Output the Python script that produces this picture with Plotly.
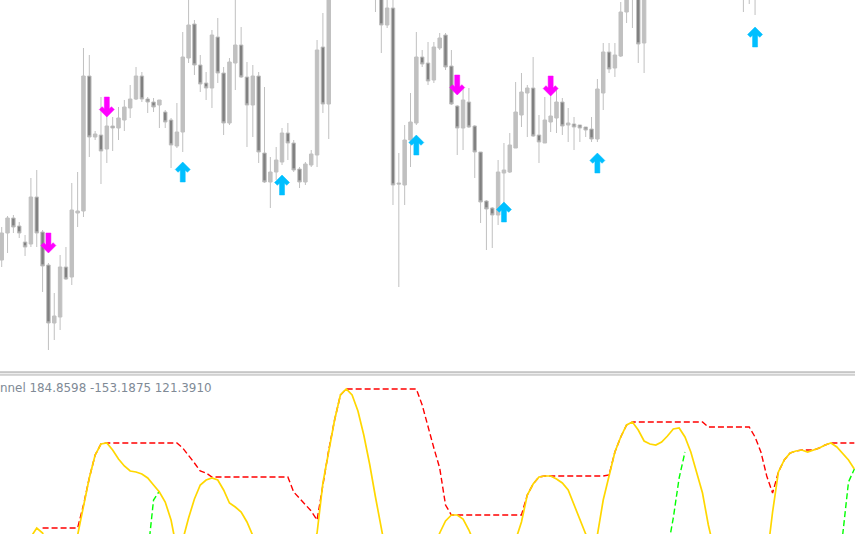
import plotly.graph_objects as go

# ---------------- data ----------------
bars = list(range(147))

open_ = [1.2740, 1.2767, 1.2782, 1.2774, 1.2758, 1.2756, 1.2803, 1.2768, 1.2735, 1.2677,
         1.2683, 1.2733, 1.2723, 1.2787, 1.2789, 1.2924, 1.2863, 1.2865, 1.2851, 1.2874,
         1.2872, 1.2880, 1.2892, 1.2901, 1.2924, 1.2901, 1.2898, 1.2895, 1.2888, 1.2880,
         1.2854, 1.2868, 1.2942, 1.2976, 1.2935, 1.2917, 1.2912, 1.2963, 1.2927, 1.2877,
         1.2937, 1.2955, 1.2923, 1.2895, 1.2924, 1.2847, 1.2818, 1.2828, 1.2838, 1.2867,
         1.2857, 1.2831, 1.2818, 1.2835, 1.2845, 1.2953, 1.2896, 1.3015, 1.3055, 1.3115,
         1.3100, 1.3145, 1.3095, 1.3060, 1.3050, 1.3015, 1.2975, 1.2992, 1.2817, 1.2815,
         1.2860, 1.2877, 1.2943, 1.2937, 1.2920, 1.2952, 1.2965, 1.2934, 1.2894, 1.2872,
         1.2898, 1.2874, 1.2848, 1.2799, 1.2792, 1.2785, 1.2827, 1.2828, 1.2852, 1.2885,
         1.2907, 1.2912, 1.2865, 1.2857, 1.2878, 1.2882, 1.2898, 1.2875, 1.2876, 1.2875,
         1.2873, 1.2871, 1.2861, 1.2907, 1.2948, 1.2932, 1.2944, 1.2988, 1.3008, 1.3020,
         1.2957, 1.3010, 1.3070, 1.3105, 1.3095, 1.3140, 1.3120, 1.3150, 1.3090, 1.3050,
         1.3065, 1.3040, 1.3050, 1.3030, 1.3060, 1.3045, 1.3025, 1.3040, 1.3020, 1.3035,
         1.3012, 1.3055, 1.3085, 1.3130, 1.3160, 1.3150, 1.3180, 1.3170, 1.3195, 1.3185,
         1.3215, 1.3230, 1.3210, 1.3225, 1.3240, 1.3200, 1.3180]

high = [1.2773, 1.2784, 1.2785, 1.2778, 1.2765, 1.2822, 1.2830, 1.2770, 1.2737, 1.2707,
        1.2745, 1.2753, 1.2817, 1.2828, 1.2952, 1.2945, 1.2869, 1.2903, 1.2900, 1.2883,
        1.2893, 1.2900, 1.2915, 1.2933, 1.2928, 1.2903, 1.2902, 1.2900, 1.2890, 1.2882,
        1.2897, 1.2968, 1.3005, 1.2980, 1.2945, 1.2928, 1.2970, 1.2982, 1.2933, 1.2942,
        1.3002, 1.2973, 1.2938, 1.2935, 1.2928, 1.2913, 1.2843, 1.2853, 1.2872, 1.2877,
        1.2860, 1.2833, 1.2838, 1.2850, 1.2960, 1.2987, 1.3030, 1.3075, 1.3125, 1.3140,
        1.3165, 1.3160, 1.3110, 1.3080, 1.3060, 1.3030, 1.3005, 1.3000, 1.2847, 1.2875,
        1.2907, 1.2968, 1.2950, 1.2958, 1.2958, 1.2967, 1.2967, 1.2950, 1.2895, 1.2913,
        1.2912, 1.2875, 1.2848, 1.2800, 1.2793, 1.2840, 1.2857, 1.2867, 1.2918, 1.2927,
        1.2915, 1.2943, 1.2885, 1.2903, 1.2907, 1.2910, 1.2902, 1.2892, 1.2883, 1.2875,
        1.2873, 1.2883, 1.2921, 1.2957, 1.2957, 1.2957, 1.2998, 1.3015, 1.3050, 1.3030,
        1.3025, 1.3080, 1.3120, 1.3135, 1.3150, 1.3170, 1.3160, 1.3155, 1.3100, 1.3075,
        1.3090, 1.3060, 1.3070, 1.3065, 1.3080, 1.3055, 1.3050, 1.3060, 1.3045, 1.3050,
        1.3060, 1.3095, 1.3140, 1.3170, 1.3185, 1.3190, 1.3200, 1.3205, 1.3215, 1.3225,
        1.3240, 1.3245, 1.3235, 1.3250, 1.3245, 1.3215, 1.3200]

low = [1.2733, 1.2747, 1.2767, 1.2762, 1.2744, 1.2753, 1.2753, 1.2708, 1.2650, 1.2660,
       1.2670, 1.2720, 1.2715, 1.2773, 1.2783, 1.2843, 1.2860, 1.2816, 1.2837, 1.2849,
       1.2860, 1.2869, 1.2882, 1.2900, 1.2898, 1.2887, 1.2888, 1.2872, 1.2872, 1.2832,
       1.2852, 1.2848, 1.2937, 1.2925, 1.2908, 1.2900, 1.2892, 1.2917, 1.2865, 1.2875,
       1.2910, 1.2922, 1.2853, 1.2863, 1.2837, 1.2817, 1.2792, 1.2820, 1.2835, 1.2840,
       1.2828, 1.2812, 1.2815, 1.2833, 1.2833, 1.2887, 1.2861, 1.3005, 1.3050, 1.3070,
       1.3090, 1.3080, 1.3035, 1.3008, 1.2988, 1.2947, 1.2972, 1.2795, 1.2713, 1.2795,
       1.2833, 1.2875, 1.2933, 1.2915, 1.2917, 1.2950, 1.2930, 1.2895, 1.2845, 1.2850,
       1.2872, 1.2822, 1.2777, 1.2750, 1.2752, 1.2775, 1.2797, 1.2827, 1.2852, 1.2873,
       1.2863, 1.2863, 1.2837, 1.2857, 1.2868, 1.2867, 1.2865, 1.2858, 1.2850, 1.2858,
       1.2863, 1.2858, 1.2858, 1.2890, 1.2927, 1.2923, 1.2943, 1.2977, 1.2972, 1.2937,
       1.2927, 1.3005, 1.3050, 1.3085, 1.3090, 1.3110, 1.3100, 1.3080, 1.3040, 1.3020,
       1.3030, 1.3015, 1.3025, 1.3020, 1.3035, 1.3010, 1.3008, 1.2988, 1.2996, 1.2985,
       1.3005, 1.3045, 1.3080, 1.3115, 1.3140, 1.3145, 1.3160, 1.3165, 1.3175, 1.3180,
       1.3200, 1.3205, 1.3190, 1.3215, 1.3195, 1.3170, 1.3160]

close = [1.2767, 1.2782, 1.2773, 1.2767, 1.2753, 1.2803, 1.2767, 1.2734, 1.2677, 1.2684,
         1.2733, 1.2721, 1.2790, 1.2789, 1.2924, 1.2863, 1.2866, 1.2849, 1.2874, 1.2872,
         1.2882, 1.2893, 1.2901, 1.2924, 1.2901, 1.2898, 1.2893, 1.2900, 1.2878, 1.2855,
         1.2868, 1.2943, 1.2975, 1.2935, 1.2916, 1.2912, 1.2965, 1.2927, 1.2877, 1.2938,
         1.2955, 1.2923, 1.2895, 1.2924, 1.2848, 1.2818, 1.2828, 1.2840, 1.2867, 1.2857,
         1.2830, 1.2818, 1.2836, 1.2846, 1.2950, 1.2896, 1.3020, 1.3060, 1.3110, 1.3080,
         1.3150, 1.3090, 1.3050, 1.3020, 1.3010, 1.2975, 1.2992, 1.2815, 1.2816, 1.2860,
         1.2878, 1.2943, 1.2936, 1.2919, 1.2953, 1.2962, 1.2933, 1.2896, 1.2872, 1.2900,
         1.2873, 1.2848, 1.2798, 1.2791, 1.2785, 1.2828, 1.2830, 1.2855, 1.2888, 1.2908,
         1.2912, 1.2864, 1.2858, 1.2880, 1.2884, 1.2898, 1.2874, 1.2877, 1.2873, 1.2872,
         1.2870, 1.2861, 1.2911, 1.2948, 1.2931, 1.2945, 1.2988, 1.3005, 1.3040, 1.2956,
         1.3010, 1.3070, 1.3105, 1.3095, 1.3140, 1.3120, 1.3150, 1.3090, 1.3050, 1.3065,
         1.3040, 1.3050, 1.3030, 1.3060, 1.3045, 1.3025, 1.3040, 1.3020, 1.3035, 1.3010,
         1.3055, 1.3085, 1.3130, 1.3160, 1.3150, 1.3180, 1.3170, 1.3195, 1.3185, 1.3215,
         1.3230, 1.3210, 1.3225, 1.3240, 1.3200, 1.3180, 1.3190]

# signal arrows (bar index, price of arrow tip)
sell_bars = [8, 18, 78, 94]
sell_price = [1.2747, 1.2883, 1.2905, 1.2904]
buy_bars = [31, 48, 71, 86, 102, 129]
buy_price = [1.2838, 1.2825, 1.2865, 1.2798, 1.2847, 1.2973]

# indicator window
N = None
channel_main = [-210, -185, -147.5, -110, -80, -52.5, -30, -42.5, -80, -122.5,
                -147.5, -147.5, -110, -47.5, 27.5, 95, 152.5, 180, 182.5, 165,
                142.5, 125, 112.5, 110, 105, 95, 77.5, 60, 35, -10,
                -85, -60, -5, 42.5, 77.5, 90, 95, 90, 65, 32.5,
                22.5, 10, -15, -47.5, -85, -122.5, -160, -185, -197.5, -197.5,
                -185, -160, -122.5, -85, -42.5, 82.5, 165, 240, 302.5, 317.5,
                302.5, 262.5, 202.5, 130, 47.5, -40, -122.5, -185, -235, -260,
                -247.5, -210, -172.5, -122.5, -80, -42.5, -12.5, 2.5, 2.5, -7.5,
                -35, -72.5, -110, -140, -155, -147.5, -122.5, -90, -60, -15,
                52.5, 80, 97.5, 100, 100, 92.5, 82.5, 65, 27.5, -5,
                -45, -60, -47.5, 40, 102.5, 160, 197.5, 227.5, 235, 215,
                187.5, 180, 177.5, 185, 200, 217.5, 220, 197.5, 160, 110,
                57.5, -22.5, -97.5, -160, -210, -247.5, -260, -247.5, -222.5, -185,
                -147.5, -110, 10, 110, 140, 157.5, 162.5, 165, 160, 165,
                170, 177.5, 182.5, 172.5, 157.5, 140, 117.5]

channel_upper = [N, N, N, N, N, N, N, -30, -30, -30,
                 -30, -30, -30, -30, 27.5, 95, 152.5, 180, 182.5, 182.5,
                 182.5, 182.5, 182.5, 182.5, 182.5, 182.5, 182.5, 182.5, 182.5, 182.5,
                 182.5, 170, 152.5, 132.5, 112.5, 107.5, 97.5, 97.5, 97.5, 97.5,
                 97.5, 97.5, 97.5, 97.5, 97.5, 97.5, 97.5, 97.5, 97.5, 97.5,
                 60, 45, 30, 12.5, -10, 82.5, 165, 240, 302.5, 317.5,
                 317.5, 317.5, 317.5, 317.5, 317.5, 317.5, 317.5, 317.5, 317.5, 317.5,
                 317.5, 317.5, 277.5, 220, 170, 120, 27.5, 2.5, 2.5, 2.5,
                 2.5, 2.5, 2.5, 2.5, 2.5, 2.5, 2.5, 2.5, 2.5, 2.5,
                 52.5, 80, 97.5, 100, 100, 100, 100, 100, 100, 100,
                 100, 100, 100, 100, 102.5, 160, 197.5, 227.5, 235, 235,
                 235, 235, 235, 235, 235, 235, 235, 235, 235, 235,
                 235, 222.5, 222.5, 222.5, 222.5, 222.5, 222.5, 222.5, 222.5, 197.5,
                 160, 100, 57.5, 110, 140, 157.5, 162.5, 165, 165, 165,
                 170, 177.5, 182.5, 182.5, 182.5, 182.5, 182.5]

channel_lower = [N] * 147
for b, v in [(25, -97.5), (26, 40), (27, 62.5),
             (114, -85), (115, -5), (116, 95), (117, 160),
             (144, -47.5), (145, 85), (146, 117.5)]:
    channel_lower[b] = v

label_text = "nnel 184.8598 -153.1875 121.3910"

# ---------------- layout constants ----------------
W, H = 855, 534
PX_PER_BAR = 5.84
FIRST_BAR_PX = 1.7
MAIN_BOTTOM_PX = 371
SUB_TOP_PX = 376
PRICE_TOP = 1.3000
PRICE_BOTTOM = 1.2629
SUB_RANGE = [-45, 350]

x_range = [-FIRST_BAR_PX / PX_PER_BAR, (W - FIRST_BAR_PX) / PX_PER_BAR]
price_per_px = (PRICE_TOP - PRICE_BOTTOM) / MAIN_BOTTOM_PX

# arrow outline in pixels (x offset, y offset from tail, tip at y=20)
ARROW = [(-2.5, 0), (2.5, 0), (2.5, 11.84), (4.67, 9.67), (7.5, 12.5), (0, 20),
         (-7.5, 12.5), (-4.67, 9.67), (-2.5, 11.84), (-2.5, 0)]


def arrow_path(bars_, prices, down):
    xs, ys = [], []
    for b, p in zip(bars_, prices):
        for dx, dy in ARROW:
            xs.append(b + dx / PX_PER_BAR)
            off = (20 - dy) * price_per_px
            ys.append(p + off if down else p - off)
        xs.append(None)
        ys.append(None)
    return xs, ys


fig = go.Figure()

fig.add_trace(go.Candlestick(
    x=bars, open=open_, high=high, low=low, close=close,
    increasing=dict(line=dict(color="#C0C0C0", width=1), fillcolor="#C0C0C0"),
    decreasing=dict(line=dict(color="#C0C0C0", width=1), fillcolor="#808080"),
    whiskerwidth=0, hoverinfo="skip", showlegend=False,
    xaxis="x", yaxis="y"))

sx, sy = arrow_path(sell_bars, sell_price, True)
fig.add_trace(go.Scatter(x=sx, y=sy, mode="lines", fill="toself",
                         fillcolor="#FF00FF", line=dict(color="#FF00FF", width=0.5),
                         hoverinfo="skip", showlegend=False, xaxis="x", yaxis="y"))
bx, by = arrow_path(buy_bars, buy_price, False)
fig.add_trace(go.Scatter(x=bx, y=by, mode="lines", fill="toself",
                         fillcolor="#00BFFF", line=dict(color="#00BFFF", width=0.5),
                         hoverinfo="skip", showlegend=False, xaxis="x", yaxis="y"))

fig.add_trace(go.Scatter(x=bars, y=channel_upper, mode="lines",
                         line=dict(color="#FF0000", width=1.4, dash="6px,3px"),
                         connectgaps=False, hoverinfo="skip", showlegend=False,
                         xaxis="x2", yaxis="y2"))
fig.add_trace(go.Scatter(x=bars, y=channel_lower, mode="lines",
                         line=dict(color="#00FF00", width=1.4, dash="6px,3px"),
                         connectgaps=False, hoverinfo="skip", showlegend=False,
                         xaxis="x2", yaxis="y2"))
fig.add_trace(go.Scatter(x=bars, y=channel_main, mode="lines",
                         line=dict(color="#FFD700", width=1.7),
                         hoverinfo="skip", showlegend=False,
                         xaxis="x2", yaxis="y2"))

main_dom = [(H - MAIN_BOTTOM_PX) / H, 1]
sub_dom = [0, (H - SUB_TOP_PX) / H]

ax_common = dict(showgrid=False, zeroline=False, showticklabels=False,
                 showline=False, ticks="", fixedrange=True)

fig.update_layout(
    width=W, height=H,
    margin=dict(l=0, r=0, t=0, b=0),
    paper_bgcolor="#FFFFFF", plot_bgcolor="#FFFFFF",
    boxgap=0.15,
    xaxis=dict(domain=[0, 1], range=x_range, anchor="y",
               rangeslider=dict(visible=False), **ax_common),
    yaxis=dict(domain=main_dom, range=[PRICE_BOTTOM, PRICE_TOP], anchor="x", **ax_common),
    xaxis2=dict(domain=[0, 1], range=x_range, anchor="y2", **ax_common),
    yaxis2=dict(domain=sub_dom, range=SUB_RANGE, anchor="x2", **ax_common),
    showlegend=False,
    shapes=[
        dict(type="rect", xref="paper", yref="paper", x0=0, x1=1,
             y0=1 - 375 / H, y1=1 - 372 / H, fillcolor="#EDEDED",
             line=dict(width=0)),
        dict(type="line", xref="paper", yref="paper", x0=0, x1=1,
             y0=1 - 372 / H, y1=1 - 372 / H, line=dict(color="#A0A0A0", width=1)),
        dict(type="line", xref="paper", yref="paper", x0=0, x1=1,
             y0=1 - 375 / H, y1=1 - 375 / H, line=dict(color="#B4B4B4", width=1)),
    ],
    annotations=[
        dict(text=label_text, xref="paper", yref="paper", x=0, y=1 - 388 / H,
             xanchor="left", yanchor="middle", showarrow=False, xshift=-2,
             font=dict(family="DejaVu Sans", size=11.9, color="#808A96")),
    ],
)

fig.write_html(
    "out.html",
    config={"displayModeBar": False, "staticPlot": True},
    post_script="document.body.style.margin='0';document.body.style.padding='0';"
                "document.documentElement.style.overflow='hidden';",
)
